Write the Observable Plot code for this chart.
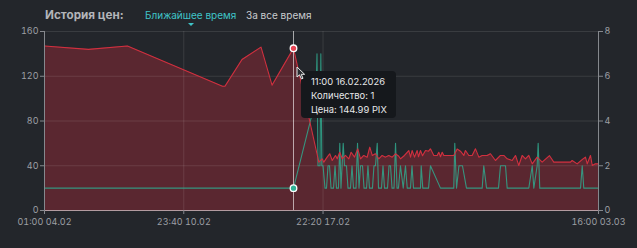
<!DOCTYPE html>
<html><head><meta charset="utf-8">
<script src="https://cdn.jsdelivr.net/npm/d3@7"></script>
<script src="https://cdn.jsdelivr.net/npm/@observablehq/plot@0.6"></script>
<style>
html,body{margin:0;padding:0;background:#23262b;width:637px;height:248px;overflow:hidden;font-family:Inter,"Noto Sans",sans-serif;}
#wrap{position:relative;width:637px;height:248px;}
#head{position:absolute;left:0;top:0;height:24px;width:637px;}
#title{position:absolute;left:45px;top:8px;font-size:11.7px;font-weight:700;color:#b3b5b9;line-height:14px;}
#tab1{position:absolute;left:145px;top:8px;font-size:10px;color:#3fc4c8;line-height:14px;}
#tab2{position:absolute;left:246px;top:8px;font-size:10px;color:#c9cbce;line-height:14px;}
#tri{position:absolute;left:188px;top:23px;width:0;height:0;border-left:3px solid transparent;border-right:3px solid transparent;border-top:3px solid #3fc4c8;}
#chart{position:absolute;left:0;top:24px;}
#tip{position:absolute;left:301px;top:71px;width:95px;height:47px;background:#15181c;border-radius:4px;color:#e6e7e9;font-size:9.4px;line-height:14px;box-sizing:border-box;padding:4px 0 0 10px;}
#cursor{position:absolute;left:296px;top:66px;}
</style></head>
<body><div id="wrap">
<div id="head"><div id="title">История цен:</div><div id="tab1">Ближайшее время</div><div id="tri"></div><div id="tab2">За все время</div></div>
<div id="chart"></div>
<div id="tip"></div>
<svg id="cursor" width="10" height="14" viewBox="0 0 10 14"><path d="M1 1 L1 11 L3.5 8.8 L5.5 13 L7 12.3 L5.2 8.3 L8.6 8.3 Z" fill="#2a2d31" stroke="#e8e8e8" stroke-width="1"/></svg>
</div>
<script>
// ---- data ----
const startTime = "2026-02-04T01:00Z";
const endTime = "2026-03-03T16:00Z";
const xTickTimes = ["2026-02-04T01:00Z", "2026-02-10T23:40Z", "2026-02-17T22:20Z", "2026-03-03T16:00Z"];
const priceTicks = [0, 40, 80, 120, 160];
const qtyTicks = [0, 2, 4, 6, 8];

// hours after start
const priceHours = [0, 52.7, 99.3, 213.0, 216.0, 236.4, 259.1, 272.3, 298.0,
  328.3, 332.3, 334.3, 338.3, 341.4, 344.3, 348.3, 350.3, 353.4, 356.3, 360.2, 364.2, 367.0, 371.0, 374.9, 378.2,
  382.1, 386.2, 389.3, 392.2, 396.1, 400.1, 404.1, 408.1, 412.0, 416.1, 420.1, 424.0, 426.0, 430.8, 436.0, 438.0,
  440.0, 442.8, 446.0, 447.6, 450.0, 452.4, 456.0, 459.6, 461.9, 465.9, 470.0, 471.9, 473.9, 476.0, 477.9, 489.8,
  491.0, 493.9, 497.8, 501.8, 503.8, 507.8, 511.8, 515.8, 519.8, 523.8, 529.8, 533.7, 539.7, 545.7, 549.7, 553.7,
  559.7, 563.7, 567.6, 571.7, 575.6, 579.6, 583.7, 589.6, 595.6, 604.4, 609.5, 613.6, 629.5, 631.5, 637.5, 643.5,
  647.4, 649.5, 653.4, 655.5, 659.4, 663.0];
const priceValues = [147, 144, 147, 111, 111, 135, 146, 112, 144.99,
  43.2, 46.2, 43.2, 47.7, 50.7, 44.7, 49.2, 46.2, 52.1, 46.2, 49.2, 46.2, 52.1, 47.7, 55.1, 46.2,
  49.2, 47.7, 56.6, 49.2, 50.7, 46.2, 49.2, 47.7, 49.2, 47.7, 50.7, 48.5, 46.2, 49.2, 53.6, 47.7,
  53.6, 47.7, 53.6, 48.0, 53.6, 49.0, 53.6, 53.0, 55.1, 49.2, 49.2, 52.1, 48.0, 52.1, 49.2, 49.2,
  50.7, 55.0, 53.0, 49.2, 53.6, 49.2, 49.2, 55.1, 47.7, 49.2, 49.2, 50.7, 44.7, 49.2, 49.2, 46.2,
  44.7, 49.2, 40.2, 49.2, 46.2, 49.2, 41.7, 47.7, 43.2, 49.0, 43.2, 43.2, 43.2, 44.7, 41.7, 45.5,
  47.7, 41.7, 49.2, 40.2, 41.7, 41.7];

const qtyHours = [0, 52.7, 99.3, 213.0, 216.0, 236.4, 259.1, 272.3, 298.0,
  324.9, 326.1, 327.3, 329.7, 330.7, 331.9, 333.3, 335.7, 337.5, 339.3, 341.1, 342.9, 345.9, 347.7, 349.4, 351.8,
  353.4, 354.8, 357.5, 359.0, 361.4, 363.2, 366.2, 368.0, 369.8, 372.8, 374.6, 376.4, 378.2, 380.6, 382.4, 385.4,
  387.1, 388.9, 392.5, 394.3, 396.1, 398.2, 399.7, 403.3, 405.1, 406.9, 410.5, 412.3, 414.1, 415.9, 418.3, 420.1,
  421.9, 423.6, 426.0, 429.3, 432.0, 434.1, 438.0, 439.8, 441.6, 450.0, 450.8, 452.7, 459.6, 461.9, 473.9, 489.8,
  491.0, 493.1, 496.0, 500.2, 505.0, 523.8, 525.7, 529.0, 543.3, 545.7, 551.7, 553.7, 579.6, 583.7, 585.6, 589.6,
  590.8, 592.7, 641.5, 643.5, 645.4, 663.0];
const qtyValues = [1, 1, 1, 1, 1, 1, 1, 1, 1,
  5, 7, 2, 2, 7, 2, 2, 1, 1, 2, 2, 1, 1, 2, 1, 1,
  3, 1, 3, 2, 2, 1, 1, 2, 1, 1, 3, 1, 2, 2, 1, 1,
  2, 1, 1, 2, 2, 3, 1, 1, 2, 1, 1, 2, 2, 1, 1, 3,
  1, 1, 2, 1, 2, 1, 1, 2, 1, 1, 2, 1, 1, 2, 1, 1,
  3, 1, 2, 2, 1, 1, 2, 1, 1, 2, 2, 1, 1, 2, 1, 2,
  3, 1, 1, 2, 1, 1];

const hoverTime = "2026-02-16T11:00Z";
const hoverQty = 1;
const hoverPrice = 144.99;
const tipLines = ["11:00 16.02.2026", "Количество: 1", "Цена: 144.99 PIX"];

// ---- build ----
const start = new Date(startTime), end = new Date(endTime);
const toDate = h => new Date(+start + h * 3600e3);
const price = priceHours.map((h, i) => ({t: toDate(h), v: priceValues[i]}));
const qty = qtyHours.map((h, i) => ({t: toDate(h), q: qtyValues[i]}));
const xTicks = xTickTimes.map(s => new Date(s));
const k = priceTicks[priceTicks.length - 1] / qtyTicks[qtyTicks.length - 1];
const hover = {t: new Date(hoverTime), q: hoverQty, v: hoverPrice};
const fmt = d3.utcFormat("%H:%M %d.%m");

const chart = Plot.plot({
  width: 637, height: 224,
  marginLeft: 44, marginRight: 39, marginTop: 7, marginBottom: 38,
  style: {background: "transparent", color: "#9c9fa4", fontFamily: "Inter, sans-serif", fontSize: "9px"},
  x: {type: "utc", domain: [start, end]},
  y: {domain: [0, 160]},
  marks: [
    Plot.areaY(price, {x: "t", y: "v", fill: "#5a2730"}),
    Plot.gridY(priceTicks.slice(1), {stroke: "#ffffff", strokeOpacity: 0.1}),
    Plot.gridX(xTicks.slice(1, 3), {stroke: "#ffffff", strokeOpacity: 0.1}),
    Plot.line(qty, {x: "t", y: d => d.q * k, stroke: "#30a88d", strokeOpacity: 0.85, strokeWidth: 1.1}),
    Plot.line(price, {x: "t", y: "v", stroke: "#d0303f", strokeWidth: 1.1}),
    Plot.ruleX([hover.t], {stroke: "#ffffff", strokeOpacity: 0.6}),
    Plot.dot([hover], {x: "t", y: "v", r: 3.3, fill: "#e84555", stroke: "#ffffff", strokeWidth: 1.3}),
    Plot.dot([hover], {x: "t", y: d => d.q * k, r: 3.3, fill: "#2fb296", stroke: "#ffffff", strokeWidth: 1.3}),
    Plot.ruleX([start, end], {stroke: "#85888d"}),
    Plot.ruleY([0], {stroke: "#b39ba0"}),
    Plot.axisX({ticks: xTicks, tickFormat: fmt, tickSize: 4, tickPadding: 4, stroke: "#85888d", label: null}),
    Plot.axisY({ticks: priceTicks, tickSize: 4, tickPadding: 2, stroke: "#85888d", label: null}),
    Plot.axisY({anchor: "right", ticks: priceTicks, tickFormat: d => d / k, tickSize: 4, tickPadding: 2, stroke: "#85888d", label: null})
  ]
});
document.getElementById("chart").appendChild(chart);
document.getElementById("tip").innerHTML = tipLines.map(s => `<div>${s}</div>`).join("");
</script>
</body></html>
